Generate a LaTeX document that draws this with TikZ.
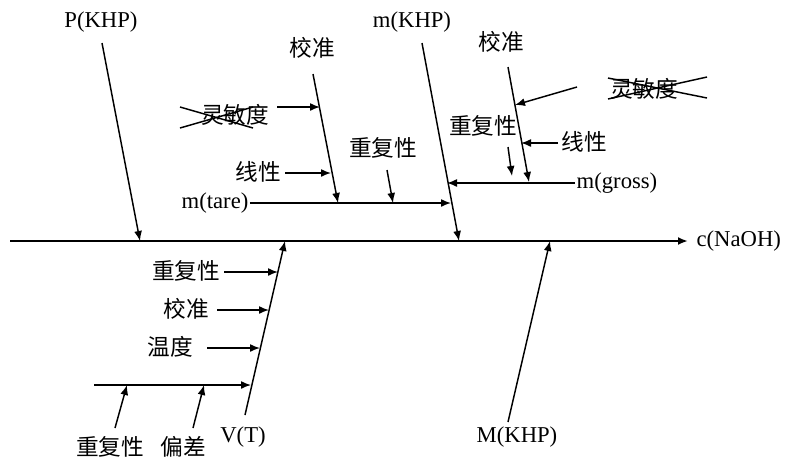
\documentclass[tikz,border=0pt]{standalone}
\usepackage{fontspec}
\setmainfont{Liberation Serif}
\newfontfamily\cjk{Noto Sans CJK SC}
\usetikzlibrary{arrows.meta}
\tikzset{
  lbl/.style = {inner sep=1pt, font=\fontsize{17}{20}\selectfont},
  zh/.style = {inner sep=1pt, font=\cjk\fontsize{17}{19}\selectfont},
  cause/.style = {->, line width=1.1pt},
  spine/.style = {->, line width=1.6pt},
  strike/.style = {line width=1.1pt}
}
\tikzset{>={Latex[length=7.5pt,width=6pt]}}

\begin{document}
\begin{tikzpicture}[x=0.75pt,y=-0.75pt]
  \useasboundingbox (0,0) rectangle (800,462);

  % main spine
  \coordinate (s0) at (10,241);
  \coordinate (s1) at (688,241);
  \draw[spine] (s0) -- (s1);
  \node[lbl,anchor=west] (naoh) at (695,241) {c(NaOH)};

  % P(KHP)
  \node[lbl] (pkhp) at (101,22) {P(KHP)};
  \coordinate (p0) at (102,43);
  \coordinate (p1) at (140,241);
  \draw[cause] (p0) -- (p1);

  % m(KHP)
  \node[lbl] (mkhp) at (412,22) {m(KHP)};
  \coordinate (k0) at (422,43);
  \coordinate (k1) at (459,241);
  \draw[cause] (k0) -- (k1);

  % m(tare) branch
  \node[lbl] (tare) at (215,203) {m(tare)};
  \coordinate (t1) at (451,203);
  \draw[cause] (tare.east) -- (t1);
  \node[zh] (calt) at (312,48) {校准};
  \coordinate (ct0) at (313,74);
  \coordinate (ct1) at (338,203);
  \draw[cause] (ct0) -- (ct1);
  \node[zh] (senst) at (235,115) {灵敏度};
  \draw[strike] (180,107) -- (253,128);
  \draw[strike] (180,128) -- (253,107);
  \coordinate (st0) at (277,107);
  \coordinate (st1) at (320,107);
  \draw[cause] (st0) -- (st1);
  \node[zh] (lint) at (258,172) {线性};
  \coordinate (lt0) at (285,173);
  \coordinate (lt1) at (331,173);
  \draw[cause] (lt0) -- (lt1);
  \node[zh] (rept) at (383,148) {重复性};
  \coordinate (rt0) at (387,170);
  \coordinate (rt1) at (393,203);
  \draw[cause] (rt0) -- (rt1);

  % m(gross) branch
  \node[lbl] (gross) at (617,183) {m(gross)};
  \coordinate (g1) at (447,183);
  \draw[cause] (gross.west) -- (g1);
  \node[zh] (calg) at (501,42) {校准};
  \coordinate (cg0) at (508,67);
  \coordinate (cg1) at (529,182);
  \draw[cause] (cg0) -- (cg1);
  \node[zh] (sensg) at (644,89) {灵敏度};
  \draw[strike] (608,99) -- (707,77);
  \draw[strike] (608,78) -- (707,98);
  \coordinate (sg0) at (577,87);
  \coordinate (sg1) at (515,105);
  \draw[cause] (sg0) -- (sg1);
  \node[zh] (ling) at (584,142) {线性};
  \coordinate (lg0) at (558,143);
  \coordinate (lg1) at (521,143);
  \draw[cause] (lg0) -- (lg1);
  \node[zh] (repg) at (483,126) {重复性};
  \coordinate (rg0) at (508,147);
  \coordinate (rg1) at (512,176);
  \draw[cause] (rg0) -- (rg1);

  % V(T) branch
  \node[lbl] (vt) at (243,437) {V(T)};
  \coordinate (v0) at (245,415);
  \coordinate (v1) at (285,241);
  \draw[cause] (v0) -- (v1);
  \node[zh] (repv) at (186,271) {重复性};
  \coordinate (rv0) at (224,272);
  \coordinate (rv1) at (278,272);
  \draw[cause] (rv0) -- (rv1);
  \node[zh] (calv) at (186,309) {校准};
  \coordinate (cv0) at (217,310);
  \coordinate (cv1) at (269,310);
  \draw[cause] (cv0) -- (cv1);
  \node[zh] (temp) at (170,347) {温度};
  \coordinate (tv0) at (207,348);
  \coordinate (tv1) at (260,348);
  \draw[cause] (tv0) -- (tv1);
  \coordinate (b0) at (94,385);
  \coordinate (b1) at (251,385);
  \draw[cause] (b0) -- (b1);
  \node[zh] (repb) at (110,447) {重复性};
  \coordinate (rb0) at (115,428);
  \coordinate (rb1) at (127,385);
  \draw[cause] (rb0) -- (rb1);
  \node[zh] (bias) at (183,447) {偏差};
  \coordinate (bb0) at (193,428);
  \coordinate (bb1) at (204,385);
  \draw[cause] (bb0) -- (bb1);

  % M(KHP)
  \node[lbl] (molar) at (517,437) {M(KHP)};
  \coordinate (m0) at (508,422);
  \coordinate (m1) at (550,241);
  \draw[cause] (m0) -- (m1);
\end{tikzpicture}
\end{document}
